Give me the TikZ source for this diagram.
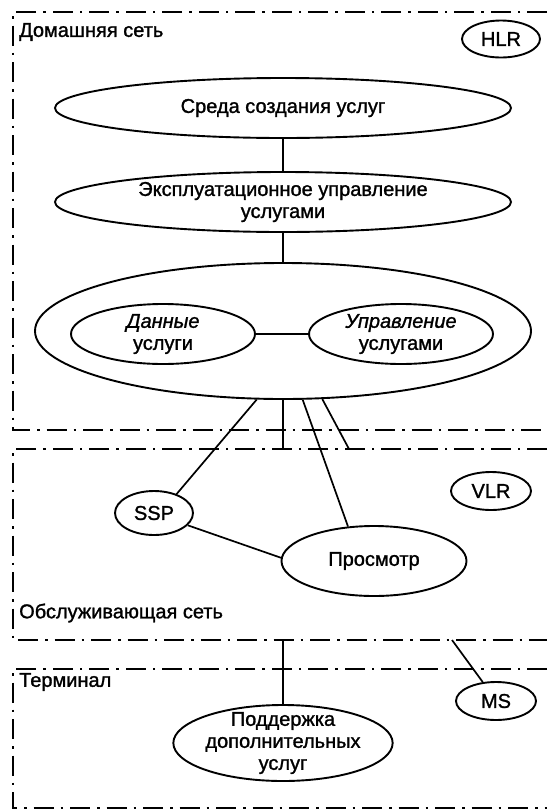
\documentclass[tikz,border=0pt]{standalone}
\usepackage{fontspec}
\setmainfont{Liberation Sans}[FakeBold=1.3]
\usetikzlibrary{shapes.geometric}
\begin{document}
\begin{tikzpicture}[x=1pt,y=-1pt,
  every node/.style={font=\fontsize{20}{22}\selectfont},
  ell/.style={draw, ellipse, line width=1.9pt, inner sep=0pt, align=center},
  conn/.style={line width=1.7pt},
  zone/.style={line width=2.3pt, dash pattern=on 20pt off 7pt on 2.5pt off 7pt},
  lbl/.style={anchor=west, inner sep=0pt}]
\useasboundingbox (0,0) rectangle (547,812);

% zones
\draw[zone] (547,12) -- (13,12) -- (13,430) -- (547,430);
\draw[zone] (547,449) -- (13,449) -- (13,640) -- (547,640);
\draw[zone] (547,669) -- (13,669) -- (13,808) -- (547,808);

\node[lbl] (lhome) at (19,32) {Домашняя сеть};
\node[lbl] (lserv) at (19,613) {Обслуживающая сеть};
\node[lbl] (lterm) at (19,682) {Терминал};

% nodes
\node[ell, minimum width=78pt, minimum height=37pt] (hlr) at (501,39) {HLR};
\node[ell, minimum width=456pt, minimum height=60pt] (e1) at (283,108) {Среда создания услуг};
\node[ell, minimum width=456pt, minimum height=60pt] (e2) at (283,202) {Эксплуатационное управление\\услугами};
\node[ell, minimum width=496pt, minimum height=136pt] (big) at (283,331) {};
\node[ell, minimum width=184pt, minimum height=60pt] (dat) at (163,334) {\textit{Данные}\\услуги};
\node[ell, minimum width=184pt, minimum height=60pt] (upr) at (401,334) {\textit{Управление}\\услугами};
\node[ell, minimum width=80pt, minimum height=38pt] (vlr) at (491,491) {VLR};
\node[ell, minimum width=78pt, minimum height=44pt] (ssp) at (154,513) {SSP};
\node[ell, minimum width=185pt, minimum height=70pt] (pros) at (374,561) {Просмотр};
\node[ell, minimum width=80pt, minimum height=38pt] (ms) at (496,701) {MS};
\node[ell, minimum width=200pt, minimum height=76pt, inner ysep=-12pt] (sup) at (283,743) {Поддержка\\дополнительных\\услуг};

% free ends
\coordinate (sB) at (283,449);
\coordinate (sD) at (349,449);
\coordinate (tB) at (283,640);
\coordinate (mA) at (452,640);

% connectors
\draw[conn] (e1) -- (e2);
\draw[conn] (e2) -- (big);
\draw[conn] (dat) -- (upr);
\draw[conn] (big.249) -- (ssp.40);
\draw[conn] (big.south) -- (sB);
\draw[conn] (big.286) -- (pros.127);
\draw[conn] (big.300) -- (sD);
\draw[conn] (ssp.340) -- (pros.178);
\draw[conn] (tB) -- (sup);
\draw[conn] (mA) -- (ms.125);
\end{tikzpicture}
\end{document}
